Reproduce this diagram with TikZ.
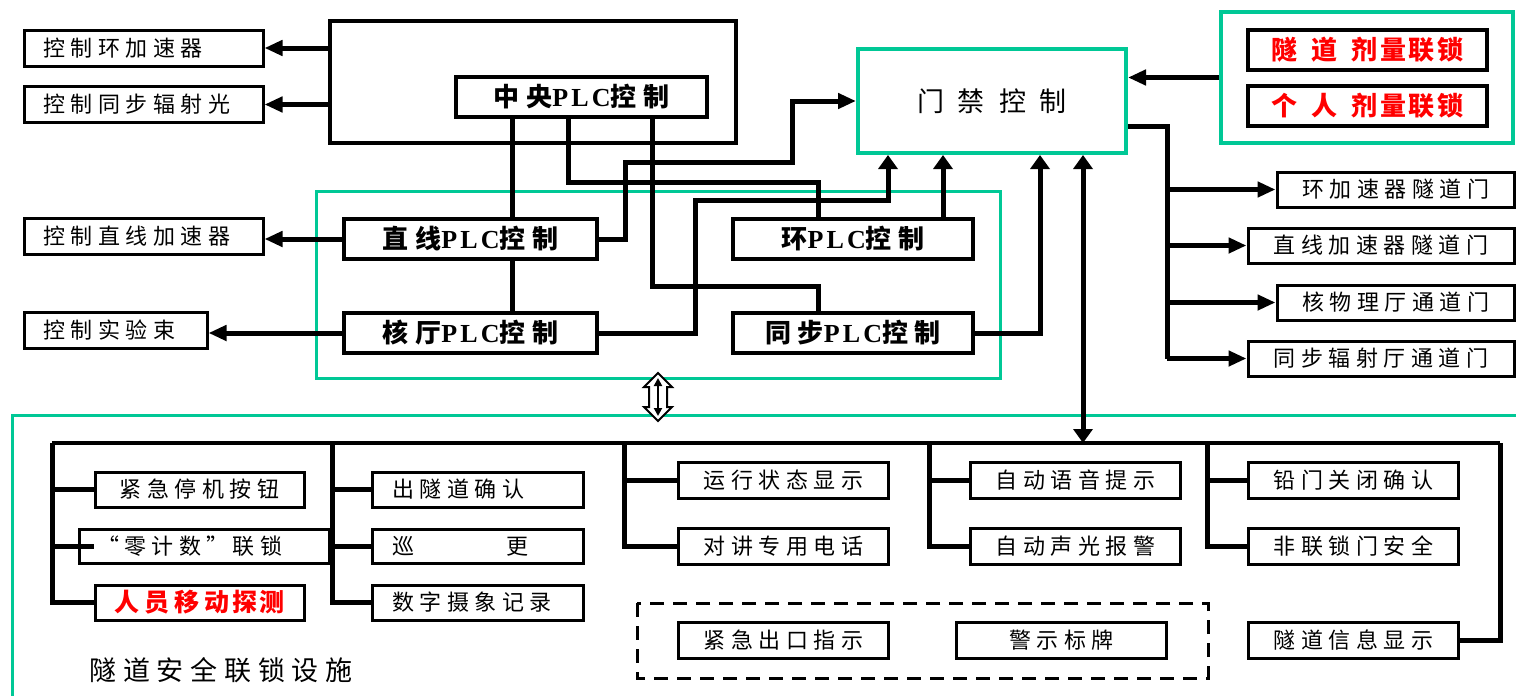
\documentclass[tikz,border=0pt]{standalone}
\usepackage{fontspec}
\newfontfamily\cjk[LetterSpace=25]{Noto Sans CJK SC}
\newfontfamily\cjkr[LetterSpace=10]{Noto Sans CJK SC}
\newfontfamily\cjkt{Noto Sans CJK SC}
\newfontfamily\lat[LetterSpace=12]{Liberation Serif}
\newcommand\plc{{\lat\bfseries PLC}}
\usetikzlibrary{arrows.meta,calc}
\definecolor{frgreen}{RGB}{0,200,150}
\definecolor{alarmred}{RGB}{255,0,0}
\tikzset{
    thk/.style={line width=2.5pt},
    busline/.style={line width=2pt},
    uptip/.style={-{Triangle[length=7pt,width=9.5pt]}},
    sbox/.style={draw, line width=1.5pt, fill=white, inner sep=0pt, minimum width=105pt, minimum height=18pt, font=\cjk\fontsize{11}{13}\selectfont},
    lbox/.style={sbox, align=left, inner xsep=10pt},
    kbox/.style={sbox, minimum width=0pt, align=left, inner xsep=9.5pt},
    pbox/.style={draw, line width=2pt, fill=white, inner sep=0pt, minimum height=20pt, font=\cjk\bfseries\fontsize{13}{15}\selectfont},
    rbox/.style={draw, line width=2pt, fill=white, inner sep=0pt, minimum width=119.5pt, minimum height=20pt, text=alarmred, font=\cjkr\bfseries\fontsize{13}{15}\selectfont},
    gframe/.style={draw=frgreen, line width=1.5pt},
}
\begin{document}
\begin{tikzpicture}[x=0.5pt, y=-0.5pt, >={Triangle[length=9pt,width=7.5pt]}]
        \useasboundingbox (0,0) rectangle (1516,696);

        % Frames
        \draw[gframe] (316,191) rectangle (1000,378);
        \draw[gframe] (1516,415) -- (12,415) -- (12,696);
        \draw[line width=1.5pt, dash pattern=on 7pt off 4.5pt] (637,603) rectangle (1208,678);

        % PLC level
        \node[draw, line width=2pt, minimum width=203pt, minimum height=61pt, inner sep=0pt] (cen) at (533,82) {};
        \node[pbox, minimum width=125.5pt] (zy) at (581.5,96.5) {中央\plc 控制};
        \node[pbox, minimum width=126.5pt] (lin) at (470.5,239) {直线\plc 控制};
        \node[pbox, minimum width=126.5pt] (he) at (470.5,333) {核厅\plc 控制};
        \node[pbox, minimum width=120pt] (huan) at (853,239) {环\plc 控制};
        \node[pbox, minimum width=120pt] (tb) at (853,333) {同步\plc 控制};

        \node[draw=frgreen, line width=2pt, fill=white, minimum width=134pt, minimum height=52pt, inner sep=0pt, font=\cjkt\fontsize{13.5}{15}\selectfont] (mj) at (992,101) {门\hspace{7pt}禁\hspace{7pt}控\hspace{7pt}制};

        \node[gframe, line width=2pt, minimum width=146pt, minimum height=65.5pt, inner sep=0pt] (dose) at (1367,77.5) {};
        \node[rbox] (sd) at (1367.5,50) {隧\hspace{7pt}道\hspace{7pt}剂量联锁};
        \node[rbox] (gr) at (1367.5,106) {个\hspace{7pt}人\hspace{7pt}剂量联锁};

        % Controlled machines
        \node[kbox, text width=100.5pt] (k1) at (143.5,48) {控制环加速器};
        \node[kbox, text width=100.5pt] (k2) at (143.5,104.5) {控制同步辐射光};
        \node[kbox, text width=100.5pt] (k3) at (143.5,236) {控制直线加速器};
        \node[kbox, text width=72.5pt] (k4) at (115.5,330) {控制实验束};

        % Doors
        \node[sbox, minimum width=118.5pt, minimum height=17.5pt] (d1) at (1395.5,189.5) {环加速器隧道门};
        \node[sbox, minimum width=133pt, minimum height=17.5pt] (d2) at (1381,245.5) {直线加速器隧道门};
        \node[sbox, minimum width=118.5pt, minimum height=17.5pt] (d3) at (1395.5,302.5) {核物理厅通道门};
        \node[sbox, minimum width=133pt, minimum height=17.5pt] (d4) at (1381,358.5) {同步辐射厅通道门};

        % Tunnel safety facilities
        \node[sbox, minimum width=104.5pt, minimum height=17.5pt] (b1) at (199.5,489.5) {紧急停机按钮};
        \node[lbox, inner xsep=9pt, text width=107pt, minimum height=17pt] (b2) at (204,546) {“零计数”\,联锁};
        \node[sbox, minimum width=104.5pt, minimum height=17.5pt, text=alarmred, font=\cjkr\bfseries\fontsize{12.5}{14}\selectfont] (b3) at (199.5,602.5) {人\hspace{2.5pt}员\hspace{2.5pt}移\hspace{2.5pt}动探测};
        \node[lbox, text width=85.5pt, minimum height=17.5pt] (c1) at (477.5,489.5) {出隧道确认};
        \node[lbox, text width=85.5pt, minimum height=17pt] (c2) at (477.5,546) {巡\hspace{46pt}更};
        \node[lbox, text width=85.5pt, minimum height=17.5pt] (c3) at (477.5,602.5) {数字摄象记录};
        \node[sbox] (e1) at (783.5,480) {运行状态显示};
        \node[sbox] (e2) at (783.5,546) {对讲专用电话};
        \node[sbox] (f1) at (1075.5,480) {自动语音提示};
        \node[sbox] (f2) at (1075.5,546) {自动声光报警};
        \node[sbox] (g1) at (1353.5,480) {铅门关闭确认};
        \node[sbox] (g2) at (1353.5,546) {非联锁门安全};
        \node[sbox] (g3) at (1353.5,640) {隧道信息显示};
        \node[sbox] (h1) at (783.5,640) {紧急出口指示};
        \node[sbox] (h2) at (1061.5,640) {警示标牌};
        \node[font=\cjk\fontsize{13.5}{16}\selectfont] (title) at (221,670) {隧道安全联锁设施};

        % Line positions
        \coordinate (xa) at (512,0);
        \coordinate (xb) at (568,0);
        \coordinate (xc) at (818,0);
        \coordinate (xd) at (652,0);
        \coordinate (xe) at (888,0);
        \coordinate (xf) at (943,0);
        \coordinate (xg) at (1040,0);
        \coordinate (xh) at (1083,0);
        \coordinate (xt) at (1167,0);
        \coordinate (busL) at (52,443);
        \coordinate (busR) at (1500,443);
        \coordinate (t2) at (332,443);
        \coordinate (t3) at (624,443);
        \coordinate (t4) at (929,443);
        \coordinate (t5) at (1207,443);

        % Top connectors
        \draw[thk,->] (cen.west |- k1.east) -- (k1.east);
        \draw[thk,->] (cen.west |- k2.east) -- (k2.east);
        \draw[thk,->] (lin.west) -- (k3.east |- lin.west);
        \draw[thk,->] (he.west) -- (k4.east |- he.west);
        \draw[thk] (zy.south -| xa) -- (lin.north -| xa);
        \draw[thk] (lin.south -| xa) -- (he.north -| xa);
        \draw[thk] (zy.south -| xb) -- ++(0,64) -| (huan.north -| xc);
        \draw[thk] (zy.south -| xd) -- ++(0,168) -| (tb.north -| xc);
        \draw[thk,->] (lin.east) -- ++(26,0) |- ++(167,-77) |- (mj.west);
        \draw[thk,uptip] (he.east) -| ++(96,-133) -| (mj.south -| xe);
        \draw[thk,uptip] (huan.north -| xf) -- (mj.south -| xf);
        \draw[thk,uptip] (tb.east) -| (mj.south -| xg);
        \draw[thk,{Triangle[length=7pt,width=9.5pt]}-{Triangle[length=7pt,width=9.5pt]}] (mj.south -| xh) -- (busL -| xh);
        \draw[thk,->] (dose.west) -- (mj.east |- dose.west);
        \draw[thk] ($(mj.south east)+(0,-29)$) -| (xt |- d4.west);
        \draw[thk,->] (xt |- d1.west) -- (d1.west);
        \draw[thk,->] (xt |- d2.west) -- (d2.west);
        \draw[thk,->] (xt |- d3.west) -- (d3.west);
        \draw[thk,->] (xt |- d4.west) -- (d4.west);

        % Double arrow between PLC group and facilities
        \draw[line width=1pt, fill=white] (658,373) -- (672,387) -- (667,387) -- (667,407) -- (672,407) -- (658,421)
            -- (644,407) -- (649,407) -- (649,387) -- (644,387) -- cycle;
        \draw[line width=1.2pt, {Triangle[length=4pt,width=4pt]}-{Triangle[length=4pt,width=4pt]}] (658,378) -- (658,416);

        % Bus
        \draw[busline] (busL) -- (busR);
        \draw[thk] (busR) |- (g3.east);
        \draw[thk] (busL) |- (b3.west);
        \draw[thk] (busL |- b1.west) -- (b1.west);
        \draw[thk] (busL |- b2.west) -- (b1.west |- b2.west);
        \draw[thk] (t2) |- (c3.west);
        \draw[thk] (t2 |- c1.west) -- (c1.west);
        \draw[thk] (t2 |- c2.west) -- (c2.west);
        \draw[thk] (t3) |- (e2.west);
        \draw[thk] (t3 |- e1.west) -- (e1.west);
        \draw[thk] (t4) |- (f2.west);
        \draw[thk] (t4 |- f1.west) -- (f1.west);
        \draw[thk] (t5) |- (g2.west);
        \draw[thk] (t5 |- g1.west) -- (g1.west);
\end{tikzpicture}
\end{document}
